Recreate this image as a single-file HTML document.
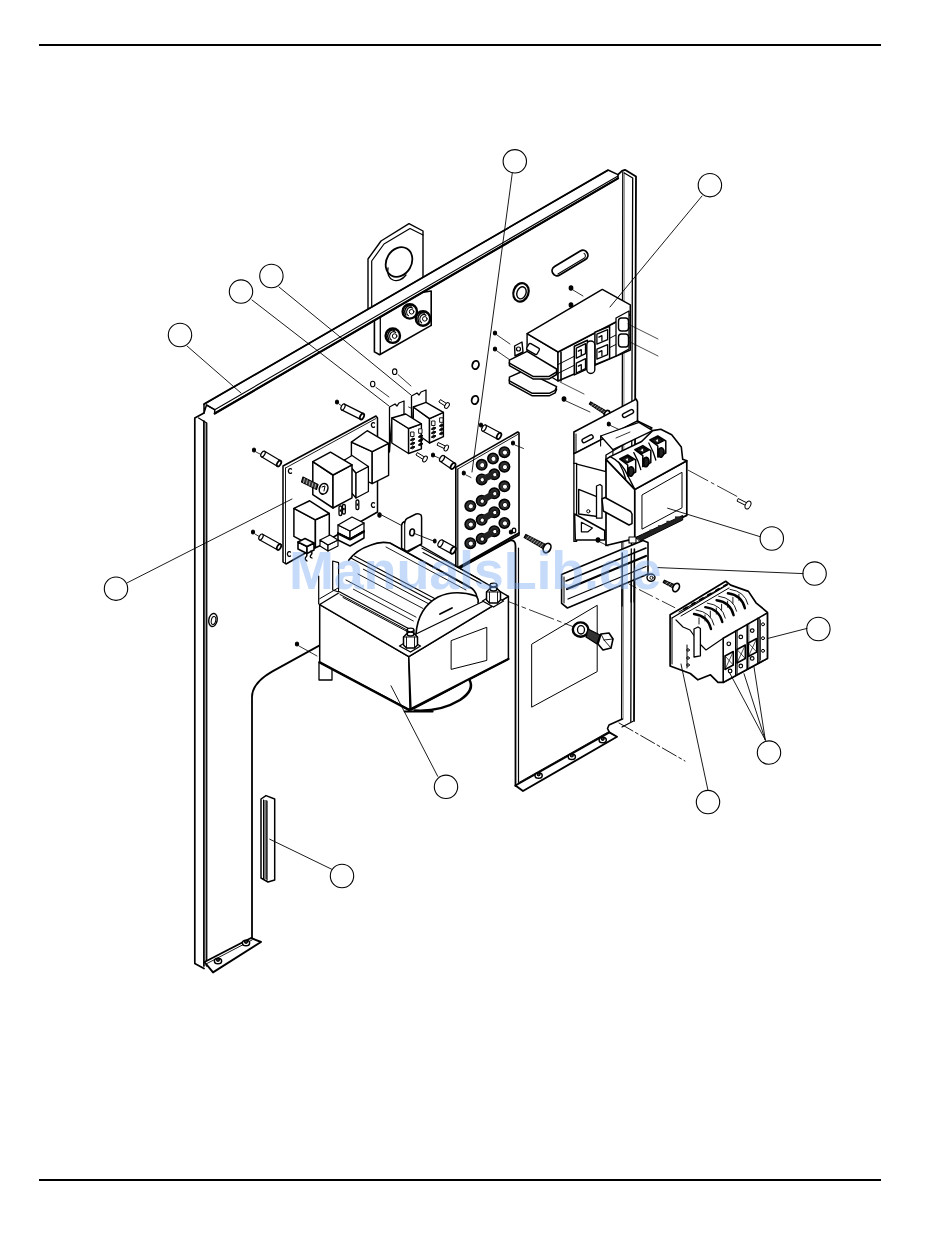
<!DOCTYPE html>
<html><head><meta charset="utf-8"><title>Parts diagram</title>
<style>
html,body{margin:0;padding:0;background:#fff;}
body{width:950px;height:1248px;position:relative;overflow:hidden;font-family:"Liberation Sans",sans-serif;}
.hr{position:absolute;left:39px;width:842px;height:2px;background:#000;}
svg{position:absolute;left:0;top:0;}
.wm{position:absolute;left:289px;top:539px;font:bold 54px "Liberation Sans",sans-serif;color:rgba(120,170,240,0.42);white-space:nowrap;letter-spacing:-0.2px;}
</style></head>
<body>
<div class="hr" style="top:44px"></div>
<div class="hr" style="top:1179px"></div>
<svg width="950" height="1248" viewBox="0 0 950 1248" stroke="#000" stroke-linejoin="round" stroke-linecap="round" fill="none">
<path d="M204,413 L194.8,418 L194.8,963.5 L204,968.5" stroke-width="1.7" fill="none" />
<path d="M198.6,418 L206.7,423 L206.7,966" stroke-width="1.4" fill="none" />
<rect x="204.7" y="423" width="1.4" height="543" fill="#999" stroke="none"/>
<path d="M203.9,421 L203.9,966" stroke-width="1.7" fill="none" />
<path d="M618,174.6 L622,170.8 L625,169.8 L636,176.5 L634,721" stroke-width="1.8" fill="none" />
<path d="M622.8,172 L621.6,719" stroke-width="1.3" fill="none" />
<path d="M624.4,173 L623.1,719" stroke-width="1.3" fill="none" stroke="#999"/>
<path d="M624.3,173 L632.7,178 L630.8,721.5" stroke-width="1.3" fill="none" />
<path d="M252,940 L252,697 Q252,683 272,671.6 L510,540.5 Q515.5,539.5 515.5,546 L515.5,786" stroke-width="1.8" fill="none" />
<path d="M518.5,548 L518.5,782" stroke-width="1.2" fill="none" />
<path d="M622.3,719 L609,725 L607.5,728.5 L609.4,732.4" stroke-width="1.6" fill="none" />
<path d="M632.6,721.5 L622,727" stroke-width="1.2" fill="none" />
<line x1="619" y1="723" x2="685" y2="761" stroke-width="0.9" stroke-dasharray="16,3,3,3"/>
<polygon points="515.4,785.5 609.4,732.4 617.0,736.8 523.0,791.0" stroke-width="1.9" fill="#fff" />
<path d="M518,783 L609,731.5" stroke-width="0.9" fill="none" />
<ellipse cx="538.6" cy="775.5" rx="3.6" ry="2.8" transform="rotate(0 538.6 775.5)" stroke-width="1.5" fill="#fff" />
<circle cx="538.6" cy="774.3" r="1.5" stroke-width="1.2" fill="#333" />
<ellipse cx="571.8" cy="756.7" rx="3.6" ry="2.8" transform="rotate(0 571.8 756.7)" stroke-width="1.5" fill="#fff" />
<circle cx="571.8" cy="755.5" r="1.5" stroke-width="1.2" fill="#333" />
<ellipse cx="602.7" cy="740" rx="3.6" ry="2.8" transform="rotate(0 602.7 740)" stroke-width="1.5" fill="#fff" />
<circle cx="602.7" cy="738.8" r="1.5" stroke-width="1.2" fill="#333" />
<polygon points="204.5,962.0 251.0,938.0 261.0,942.0 213.0,972.4" stroke-width="1.9" fill="#fff" />
<path d="M207,963.5 L252,940" stroke-width="0.9" fill="none" />
<ellipse cx="218" cy="961" rx="3.6" ry="2.8" transform="rotate(0 218 961)" stroke-width="1.5" fill="#fff" />
<circle cx="218" cy="959.8" r="1.5" stroke-width="1.2" fill="#333" />
<ellipse cx="246" cy="943" rx="3.6" ry="2.8" transform="rotate(0 246 943)" stroke-width="1.5" fill="#fff" />
<circle cx="246" cy="941.8" r="1.5" stroke-width="1.2" fill="#333" />
<polygon points="532.0,644.0 597.2,605.3 597.2,671.6 532.0,707.0" stroke-width="1.0" fill="none" />
<rect x="-20" y="-5" width="40" height="10" rx="5" transform="translate(570,263) rotate(-31)" stroke-width="1.8" fill="none"/>
<path d="M-16,3.2 L15,3.2 A3,3 0 0 0 17,-1" transform="translate(570,263) rotate(-31)" stroke-width="1.0" fill="none"/>
<ellipse cx="521" cy="292.4" rx="7.5" ry="9.5" transform="rotate(20 521 292.4)" stroke-width="2.2" fill="none" />
<ellipse cx="521.5" cy="292.8" rx="4.5" ry="6.2" transform="rotate(20 521.5 292.8)" stroke-width="1.4" fill="none" />
<ellipse cx="213" cy="620" rx="4.2" ry="6.6" transform="rotate(10 213 620)" stroke-width="1.4" fill="none" />
<ellipse cx="213.5" cy="620.5" rx="2.2" ry="4" transform="rotate(10 213.5 620.5)" stroke-width="1.0" fill="none" />
<ellipse cx="475.6" cy="365" rx="3.3" ry="4.2" transform="rotate(15 475.6 365)" stroke-width="1.8" fill="none" />
<ellipse cx="475" cy="400" rx="3.3" ry="4.2" transform="rotate(15 475 400)" stroke-width="1.8" fill="none" />
<polygon points="374.4,302.0 374.4,351.9 379.6,354.8 431.2,325.4 431.2,291.0 374.4,300.0" stroke-width="1.6" fill="#fff" />
<path d="M380.3,300 L380.3,354" stroke-width="1.3" fill="none" />
<polygon points="368.0,310.0 368.0,259.0 381.0,241.0 409.0,223.6 423.0,231.0 423.0,290.0 368.0,318.0" stroke-width="1.4" fill="#fff" />
<path d="M371.7,306 L371.7,261 L384,244 L410,228.5 L423,235" stroke-width="1.2" fill="none" />
<ellipse cx="399" cy="262" rx="12.5" ry="15.5" transform="rotate(30 399 262)" stroke-width="1.8" fill="none" />
<path d="M388,268 A10,13 30 0 0 406,275" stroke-width="1.3" fill="none"/>
<circle cx="409.8" cy="311.4" r="7.2" stroke-width="2.4" fill="#fff" />
<path d="M405.84000000000003,315.0 A5.04,5.760000000000001 0 0 1 411.24,306.0" stroke-width="1.5" fill="none"/>
<path d="M408.36,315.71999999999997 A3.6,4.32 0 0 1 412.68,308.15999999999997" stroke-width="1.2" fill="none"/>
<circle cx="411.6" cy="311.76" r="2.3040000000000003" stroke-width="1.0" fill="#fff" />
<circle cx="423" cy="318.5" r="7.2" stroke-width="2.4" fill="#fff" />
<path d="M419.04,322.1 A5.04,5.760000000000001 0 0 1 424.44,313.1" stroke-width="1.5" fill="none"/>
<path d="M421.56,322.82 A3.6,4.32 0 0 1 425.88,315.26" stroke-width="1.2" fill="none"/>
<circle cx="424.8" cy="318.86" r="2.3040000000000003" stroke-width="1.0" fill="#fff" />
<circle cx="392.8" cy="335.7" r="7.2" stroke-width="2.4" fill="#fff" />
<path d="M388.84000000000003,339.3 A5.04,5.760000000000001 0 0 1 394.24,330.3" stroke-width="1.5" fill="none"/>
<path d="M391.36,340.02 A3.6,4.32 0 0 1 395.68,332.46" stroke-width="1.2" fill="none"/>
<circle cx="394.6" cy="336.06" r="2.3040000000000003" stroke-width="1.0" fill="#fff" />
<polygon points="204.0,404.0 608.0,170.0 618.0,174.6 618.0,178.4 214.7,413.5 214.7,409.7 206.5,405.0 204.0,413.0" stroke-width="1.5" fill="#fff" />
<path d="M206.5,405 L214.7,409.7 L618,176" stroke-width="1.1" fill="none" />
<path d="M214.7,413.5 L618,178.4" stroke-width="2.2" fill="none" />
<path d="M204,404.3 L608,170.4" stroke-width="1.4" fill="none" />
<ellipse cx="254" cy="450" rx="1.5" ry="2.0" transform="rotate(0 254 450)" stroke-width="1.2" fill="#000" />
<line x1="256" y1="452" x2="262" y2="455" stroke-width="0.8" />
<polygon points="261.4,456.8 277.4,466.3 280.6,460.7 264.6,451.2" stroke-width="1.2" fill="#fff" />
<ellipse cx="263" cy="454" rx="1.7600000000000002" ry="3.2" transform="rotate(30.699722550814414 263 454)" stroke-width="1.2" fill="#fff" />
<ellipse cx="279" cy="463.5" rx="1.7600000000000002" ry="3.2" transform="rotate(30.699722550814414 279 463.5)" stroke-width="1.7999999999999998" fill="#fff" />
<ellipse cx="337" cy="402" rx="1.5" ry="2.0" transform="rotate(0 337 402)" stroke-width="1.2" fill="#000" />
<line x1="339" y1="404" x2="343" y2="407" stroke-width="0.8" />
<polygon points="341.6,409.9 360.6,419.4 363.4,413.6 344.4,404.1" stroke-width="1.2" fill="#fff" />
<ellipse cx="343" cy="407" rx="1.7600000000000002" ry="3.2" transform="rotate(26.56505117707799 343 407)" stroke-width="1.2" fill="#fff" />
<ellipse cx="362" cy="416.5" rx="1.7600000000000002" ry="3.2" transform="rotate(26.56505117707799 362 416.5)" stroke-width="1.7999999999999998" fill="#fff" />
<ellipse cx="253" cy="532" rx="1.5" ry="2.0" transform="rotate(0 253 532)" stroke-width="1.2" fill="#000" />
<line x1="255" y1="534" x2="260" y2="537" stroke-width="0.8" />
<polygon points="259.4,539.8 277.4,549.8 280.6,544.2 262.6,534.2" stroke-width="1.2" fill="#fff" />
<ellipse cx="261" cy="537" rx="1.7600000000000002" ry="3.2" transform="rotate(29.054604099077146 261 537)" stroke-width="1.2" fill="#fff" />
<ellipse cx="279" cy="547" rx="1.7600000000000002" ry="3.2" transform="rotate(29.054604099077146 279 547)" stroke-width="1.7999999999999998" fill="#fff" />
<polygon points="283.0,466.0 376.0,416.0 377.5,418.0 377.5,512.0 286.0,564.0 283.0,562.0" stroke-width="1.5" fill="#fff" />
<path d="M285.5,468 L376,418.5" stroke-width="0.9" fill="none" />
<path d="M285.5,468 L285.5,563" stroke-width="0.9" fill="none" />
<path d="M291.5,469 A2,2.4 0 1 0 291.5,473" stroke-width="1.3" fill="none"/>
<path d="M374.5,423 A2,2.4 0 1 0 374.5,427" stroke-width="1.3" fill="none"/>
<path d="M374.5,503 A2,2.4 0 1 0 374.5,507" stroke-width="1.3" fill="none"/>
<path d="M290.5,552 A2,2.4 0 1 0 290.5,556" stroke-width="1.3" fill="none"/>
<polygon points="351.4,442.1 372.2,451.6 372.2,483.6 351.4,474.1" stroke-width="1.4" fill="#fff" />
<polygon points="372.2,451.6 388.6,443.4 388.6,475.4 372.2,483.6" stroke-width="1.4" fill="#fff" />
<polygon points="351.4,442.1 367.2,430.7 388.6,443.4 372.2,451.6" stroke-width="1.4" fill="#fff" />
<polygon points="344.5,460.0 356.0,473.0 356.0,498.0 344.5,485.0" stroke-width="1.3" fill="#fff" />
<polygon points="356.0,473.0 368.4,466.5 368.4,491.5 356.0,498.0" stroke-width="1.3" fill="#fff" />
<polygon points="344.5,460.0 352.0,455.5 368.4,466.5 356.0,473.0" stroke-width="1.3" fill="#fff" />
<polygon points="312.8,461.7 333.0,475.0 333.0,508.0 312.8,494.7" stroke-width="1.5" fill="#fff" />
<polygon points="333.0,475.0 352.0,464.8 352.0,497.8 333.0,508.0" stroke-width="1.5" fill="#fff" />
<polygon points="312.8,461.7 330.5,452.2 352.0,464.8 333.0,475.0" stroke-width="1.5" fill="#fff" />
<polygon points="293.9,508.4 315.4,519.8 315.4,547.8 293.9,536.4" stroke-width="1.5" fill="#fff" />
<polygon points="315.4,519.8 329.3,513.5 329.3,541.5 315.4,547.8" stroke-width="1.5" fill="#fff" />
<polygon points="293.9,508.4 309.7,500.8 329.3,513.5 315.4,519.8" stroke-width="1.5" fill="#fff" />
<polygon points="338.0,525.0 350.0,531.0 350.0,539.0 338.0,533.0" stroke-width="1.3" fill="#fff" />
<polygon points="350.0,531.0 364.0,523.0 364.0,531.0 350.0,539.0" stroke-width="1.3" fill="#fff" />
<polygon points="338.0,525.0 352.0,517.0 364.0,523.0 350.0,531.0" stroke-width="1.3" fill="#fff" />
<polygon points="338.0,533.0 350.0,539.0 364.0,531.0 364.0,538.0 350.0,546.0 338.0,540.0" stroke-width="1.5" fill="#fff" />
<path d="M338,533.5 L350,539.5 L364,531.5" stroke-width="2.2" fill="none" />
<rect x="339" y="506" width="2.8" height="9.5" rx="1.2" stroke-width="1.3" fill="#fff"/>
<rect x="339.6" y="509.5" width="1.6" height="2.2" fill="#000" stroke="none"/>
<rect x="342.5" y="504.5" width="2.8" height="9.5" rx="1.2" stroke-width="1.3" fill="#fff"/>
<rect x="343.1" y="508.0" width="1.6" height="2.2" fill="#000" stroke="none"/>
<rect x="356" y="500" width="2.8" height="9.5" rx="1.2" stroke-width="1.3" fill="#fff"/>
<rect x="356.6" y="503.5" width="1.6" height="2.2" fill="#000" stroke="none"/>
<polygon points="298.0,542.0 307.0,546.5 307.0,553.5 298.0,549.0" stroke-width="1.6" fill="#fff" />
<polygon points="307.0,546.5 314.0,543.0 314.0,550.0 307.0,553.5" stroke-width="1.6" fill="#fff" />
<polygon points="298.0,542.0 305.0,538.5 314.0,543.0 307.0,546.5" stroke-width="1.6" fill="#fff" />
<path d="M306,553 q2,2 0,4 q-2,2 1,4 M311,551 q2,2 0,4 q-2,2 1,3" stroke-width="1.3" fill="none" />
<polygon points="320.0,540.0 328.0,545.0 328.0,551.0 320.0,546.0" stroke-width="1.2" fill="#fff" />
<polygon points="328.0,545.0 338.0,540.0 338.0,546.0 328.0,551.0" stroke-width="1.2" fill="#fff" />
<polygon points="320.0,540.0 330.0,535.0 338.0,540.0 328.0,545.0" stroke-width="1.2" fill="#fff" />
<path d="M303,477 L318,484.5 L316.5,489.5 L301.5,482 Z" stroke-width="1.2" fill="#333"/>
<line x1="304.5" y1="478.5" x2="303.5" y2="482.5" stroke-width="0.6" stroke="#fff"/>
<line x1="307.3" y1="479.95" x2="306.3" y2="483.95" stroke-width="0.6" stroke="#fff"/>
<line x1="310.1" y1="481.4" x2="309.1" y2="485.4" stroke-width="0.6" stroke="#fff"/>
<line x1="312.9" y1="482.85" x2="311.9" y2="486.85" stroke-width="0.6" stroke="#fff"/>
<line x1="315.7" y1="484.3" x2="314.7" y2="488.3" stroke-width="0.6" stroke="#fff"/>
<ellipse cx="323.6" cy="488.8" rx="4.2" ry="5.4" transform="rotate(20 323.6 488.8)" stroke-width="1.6" fill="#fff" />
<path d="M322,487 L325,486 L324,491" stroke-width="1.0" fill="none" />
<ellipse cx="372.7" cy="384" rx="2.2" ry="2.8" transform="rotate(0 372.7 384)" stroke-width="1.1" fill="#fff" />
<line x1="376" y1="387.4" x2="389" y2="397" stroke-width="0.8" />
<ellipse cx="394.7" cy="371.7" rx="2.2" ry="2.8" transform="rotate(0 394.7 371.7)" stroke-width="1.1" fill="#fff" />
<line x1="398" y1="374.6" x2="411" y2="386" stroke-width="0.8" />
<line x1="408.6" y1="407" x2="420" y2="412" stroke-width="0.8" />
<polygon points="411.5,443.0 411.5,396.0 417.0,393.0 419.0,395.0 421.0,392.0 426.0,390.0 426.0,403.0 413.5,409.0" stroke-width="1.3" fill="#fff" />
<polygon points="413.3,407.0 429.5,418.6 429.5,443.0 413.3,431.4" stroke-width="1.4" fill="#fff" />
<polygon points="429.5,418.6 443.4,412.3 443.4,436.7 429.5,443.0" stroke-width="1.4" fill="#fff" />
<polygon points="413.3,407.0 426.0,402.4 443.4,412.3 429.5,418.6" stroke-width="1.4" fill="#fff" />
<rect x="432" y="421.0" width="3" height="4.5" stroke-width="0.9" fill="#fff"/>
<path d="M431.5,429.0 l2,-1.8 l2.5,0.6 l-2,1.8z" stroke-width="1.0" fill="#000"/>
<path d="M431.5,433.0 l2,-1.8 l2.5,0.6 l-2,1.8z" stroke-width="1.0" fill="#000"/>
<path d="M431.5,437.0 l2,-1.8 l2.5,0.6 l-2,1.8z" stroke-width="1.0" fill="#000"/>
<rect x="440" y="417.8" width="3" height="4.5" stroke-width="0.9" fill="#fff"/>
<path d="M439.5,425.8 l2,-1.8 l2.5,0.6 l-2,1.8z" stroke-width="1.0" fill="#000"/>
<path d="M439.5,429.8 l2,-1.8 l2.5,0.6 l-2,1.8z" stroke-width="1.0" fill="#000"/>
<path d="M439.5,433.8 l2,-1.8 l2.5,0.6 l-2,1.8z" stroke-width="1.0" fill="#000"/>
<polygon points="389.5,452.0 389.5,407.0 395.0,404.0 397.0,406.0 399.0,403.0 404.0,401.0 404.0,414.0 391.8,420.0" stroke-width="1.3" fill="#fff" />
<polygon points="391.8,418.0 408.6,428.5 408.6,453.5 391.8,443.0" stroke-width="1.4" fill="#fff" />
<polygon points="408.6,428.5 421.4,423.8 421.4,448.8 408.6,453.5" stroke-width="1.4" fill="#fff" />
<polygon points="391.8,418.0 405.7,414.0 421.4,423.8 408.6,428.5" stroke-width="1.4" fill="#fff" />
<rect x="411" y="432.0" width="3" height="4.5" stroke-width="0.9" fill="#fff"/>
<path d="M410.5,440.0 l2,-1.8 l2.5,0.6 l-2,1.8z" stroke-width="1.0" fill="#000"/>
<path d="M410.5,444.0 l2,-1.8 l2.5,0.6 l-2,1.8z" stroke-width="1.0" fill="#000"/>
<path d="M410.5,448.0 l2,-1.8 l2.5,0.6 l-2,1.8z" stroke-width="1.0" fill="#000"/>
<rect x="419" y="428.8" width="3" height="4.5" stroke-width="0.9" fill="#fff"/>
<path d="M418.5,436.8 l2,-1.8 l2.5,0.6 l-2,1.8z" stroke-width="1.0" fill="#000"/>
<path d="M418.5,440.8 l2,-1.8 l2.5,0.6 l-2,1.8z" stroke-width="1.0" fill="#000"/>
<path d="M418.5,444.8 l2,-1.8 l2.5,0.6 l-2,1.8z" stroke-width="1.0" fill="#000"/>
<polygon points="439.2,402.2 445.0,405.9 446.5,403.5 440.8,399.8" stroke-width="1.0" fill="#fff" />
<ellipse cx="447" cy="405.5" rx="1.92" ry="3.2" transform="rotate(32.7352262721076 447 405.5)" stroke-width="1.0" fill="#fff" />
<polygon points="437.4,445.3 444.3,448.6 445.6,446.1 438.6,442.7" stroke-width="1.0" fill="#fff" />
<ellipse cx="446.3" cy="448" rx="1.92" ry="3.2" transform="rotate(25.730705601531167 446.3 448)" stroke-width="1.0" fill="#fff" />
<polygon points="416.3,455.2 423.0,459.4 424.5,457.0 417.7,452.8" stroke-width="1.0" fill="#fff" />
<ellipse cx="425" cy="459" rx="1.92" ry="3.2" transform="rotate(32.005383208083494 425 459)" stroke-width="1.0" fill="#fff" />
<ellipse cx="433" cy="455" rx="1.5" ry="2.0" transform="rotate(0 433 455)" stroke-width="1.2" fill="#000" />
<line x1="434.5" y1="456" x2="441" y2="459" stroke-width="0.8" />
<polygon points="440.1,461.3 451.1,468.8 454.9,463.2 443.9,455.7" stroke-width="1.2" fill="#fff" />
<ellipse cx="442" cy="458.5" rx="1.87" ry="3.4" transform="rotate(34.28687697720896 442 458.5)" stroke-width="1.2" fill="#fff" />
<ellipse cx="453" cy="466" rx="1.87" ry="3.4" transform="rotate(34.28687697720896 453 466)" stroke-width="1.7999999999999998" fill="#fff" />
<polygon points="482.4,431.0 497.4,439.0 500.6,433.0 485.6,425.0" stroke-width="1.2" fill="#fff" />
<ellipse cx="484" cy="428" rx="1.87" ry="3.4" transform="rotate(28.072486935852957 484 428)" stroke-width="1.2" fill="#fff" />
<ellipse cx="499" cy="436" rx="1.87" ry="3.4" transform="rotate(28.072486935852957 499 436)" stroke-width="1.7999999999999998" fill="#fff" />
<ellipse cx="481" cy="425" rx="1.5" ry="2.0" transform="rotate(0 481 425)" stroke-width="1.2" fill="#000" />
<polygon points="455.8,467.4 517.7,432.0 519.0,433.0 519.0,535.0 457.5,569.0 455.8,568.0" stroke-width="1.6" fill="#fff" />
<path d="M457.8,469 L517.7,434.5" stroke-width="0.9" fill="none" />
<path d="M457.8,469 L457.8,568.5" stroke-width="1.2" fill="none" />
<path d="M459,567 L519,533" stroke-width="2.0" fill="none" />
<ellipse cx="463.8" cy="473" rx="1.5" ry="2.0" transform="rotate(0 463.8 473)" stroke-width="1.2" fill="#000" />
<ellipse cx="513" cy="443" rx="1.5" ry="2.0" transform="rotate(0 513 443)" stroke-width="1.2" fill="#000" />
<ellipse cx="514" cy="530.5" rx="1.8" ry="2.3" transform="rotate(0 514 530.5)" stroke-width="1.3" fill="#fff" />
<line x1="466" y1="475" x2="471" y2="477.5" stroke-width="0.8" />
<line x1="515" y1="445" x2="523.5" y2="448.5" stroke-width="0.8" />
<circle cx="481.7" cy="464.8" r="5.2" stroke-width="1.6" fill="#333" />
<circle cx="482.3" cy="465.2" r="2.6" stroke-width="0.9" fill="#fff" />
<circle cx="493" cy="458.5" r="5.2" stroke-width="1.6" fill="#333" />
<circle cx="493.6" cy="458.9" r="2.6" stroke-width="0.9" fill="#fff" />
<circle cx="504.4" cy="452.2" r="5.2" stroke-width="1.6" fill="#333" />
<circle cx="505.0" cy="452.59999999999997" r="2.6" stroke-width="0.9" fill="#fff" />
<circle cx="504.4" cy="466.7" r="5.2" stroke-width="1.6" fill="#333" />
<circle cx="505.0" cy="467.09999999999997" r="2.6" stroke-width="0.9" fill="#fff" />
<circle cx="481.7" cy="479.4" r="5.2" stroke-width="1.6" fill="#333" />
<circle cx="482.3" cy="479.79999999999995" r="2.6" stroke-width="0.9" fill="#fff" />
<circle cx="494.3" cy="474.3" r="5.2" stroke-width="1.6" fill="#333" />
<circle cx="494.90000000000003" cy="474.7" r="2.6" stroke-width="0.9" fill="#fff" />
<circle cx="504.4" cy="486.3" r="5.2" stroke-width="1.6" fill="#333" />
<circle cx="505.0" cy="486.7" r="2.6" stroke-width="0.9" fill="#fff" />
<circle cx="494.3" cy="493.3" r="5.2" stroke-width="1.6" fill="#333" />
<circle cx="494.90000000000003" cy="493.7" r="2.6" stroke-width="0.9" fill="#fff" />
<circle cx="481.7" cy="500.8" r="5.2" stroke-width="1.6" fill="#333" />
<circle cx="482.3" cy="501.2" r="2.6" stroke-width="0.9" fill="#fff" />
<circle cx="470.3" cy="505.9" r="5.2" stroke-width="1.6" fill="#333" />
<circle cx="470.90000000000003" cy="506.29999999999995" r="2.6" stroke-width="0.9" fill="#fff" />
<circle cx="504.4" cy="504.6" r="5.2" stroke-width="1.6" fill="#333" />
<circle cx="505.0" cy="505.0" r="2.6" stroke-width="0.9" fill="#fff" />
<circle cx="494.3" cy="512.2" r="5.2" stroke-width="1.6" fill="#333" />
<circle cx="494.90000000000003" cy="512.6" r="2.6" stroke-width="0.9" fill="#fff" />
<circle cx="481.7" cy="519.8" r="5.2" stroke-width="1.6" fill="#333" />
<circle cx="482.3" cy="520.1999999999999" r="2.6" stroke-width="0.9" fill="#fff" />
<circle cx="470.3" cy="524.2" r="5.2" stroke-width="1.6" fill="#333" />
<circle cx="470.90000000000003" cy="524.6" r="2.6" stroke-width="0.9" fill="#fff" />
<circle cx="504.4" cy="523" r="5.2" stroke-width="1.6" fill="#333" />
<circle cx="505.0" cy="523.4" r="2.6" stroke-width="0.9" fill="#fff" />
<circle cx="494.3" cy="531.2" r="5.2" stroke-width="1.6" fill="#333" />
<circle cx="494.90000000000003" cy="531.6" r="2.6" stroke-width="0.9" fill="#fff" />
<circle cx="481.7" cy="538.7" r="5.2" stroke-width="1.6" fill="#333" />
<circle cx="482.3" cy="539.1" r="2.6" stroke-width="0.9" fill="#fff" />
<circle cx="470.3" cy="543.2" r="5.2" stroke-width="1.6" fill="#333" />
<circle cx="470.90000000000003" cy="543.6" r="2.6" stroke-width="0.9" fill="#fff" />
<line x1="481.7" y1="479.4" x2="494.3" y2="474.3" stroke-width="6.5" stroke="#222"/>
<line x1="494.3" y1="493.3" x2="481.7" y2="500.8" stroke-width="6.5" stroke="#222"/>
<line x1="494.3" y1="512.2" x2="481.7" y2="519.8" stroke-width="6.5" stroke="#222"/>
<line x1="494.3" y1="531.2" x2="481.7" y2="538.7" stroke-width="6.5" stroke="#222"/>
<circle cx="482.3" cy="479.79999999999995" r="2.2" stroke-width="0.9" fill="#fff" />
<circle cx="494.90000000000003" cy="474.7" r="2.2" stroke-width="0.9" fill="#fff" />
<circle cx="494.90000000000003" cy="493.7" r="2.2" stroke-width="0.9" fill="#fff" />
<circle cx="482.3" cy="501.2" r="2.2" stroke-width="0.9" fill="#fff" />
<circle cx="494.90000000000003" cy="512.6" r="2.2" stroke-width="0.9" fill="#fff" />
<circle cx="482.3" cy="520.1999999999999" r="2.2" stroke-width="0.9" fill="#fff" />
<circle cx="494.90000000000003" cy="531.6" r="2.2" stroke-width="0.9" fill="#fff" />
<circle cx="482.3" cy="539.1" r="2.2" stroke-width="0.9" fill="#fff" />
<ellipse cx="571" cy="288" rx="1.8" ry="2.2" transform="rotate(0 571 288)" stroke-width="1.2" fill="#000" />
<line x1="573" y1="290" x2="583" y2="296" stroke-width="0.8" />
<ellipse cx="571" cy="305" rx="1.8" ry="2.2" transform="rotate(0 571 305)" stroke-width="1.2" fill="#000" />
<ellipse cx="495" cy="333" rx="1.6" ry="2.0" transform="rotate(0 495 333)" stroke-width="1.2" fill="#000" />
<line x1="497" y1="335" x2="510" y2="344" stroke-width="0.8" />
<ellipse cx="495" cy="349" rx="1.6" ry="2.0" transform="rotate(0 495 349)" stroke-width="1.2" fill="#000" />
<line x1="497" y1="351" x2="510" y2="360" stroke-width="0.8" />
<polygon points="527.1,333.6 558.0,352.0 558.0,381.0 527.1,362.0" stroke-width="1.4" fill="#fff" />
<polygon points="558.0,352.0 630.3,314.5 630.3,350.0 558.0,381.0" stroke-width="1.5" fill="#fff" />
<polygon points="527.1,333.6 602.3,289.4 630.3,304.9 630.3,314.5 558.0,352.0" stroke-width="1.5" fill="#fff" />
<line x1="558" y1="364.6" x2="630.3" y2="327.7" stroke-width="1.0" />
<line x1="558" y1="373.4" x2="630.3" y2="337.3" stroke-width="1.0" />
<line x1="561" y1="352" x2="561" y2="381" stroke-width="1.6" />
<path d="M574.3,346.2 L587.5,340.2 L587.5,368.9 L574.3,374.9 Z" stroke-width="1.5" fill="#fff"/>
<path d="M576.3,348.2 l9.200000000000045,-4.5 l0,10 l-9.200000000000045,4.5 z" stroke-width="1.3" fill="#fff"/>
<path d="M576.3,363.2 l9.200000000000045,-4.5 l0,10 l-9.200000000000045,4.5 z" stroke-width="1.3" fill="#fff"/>
<path d="M578.3,351.2 l3,-1.5 l0,5 M578.3,366.2 l3,-1.5 l0,5" stroke-width="1.3" fill="none"/>
<path d="M594.9,332.2 L609.6,326.2 L609.6,358.6 L594.9,364.6 Z" stroke-width="1.5" fill="#fff"/>
<path d="M596.9,334.2 l10.700000000000045,-4.5 l0,10 l-10.700000000000045,4.5 z" stroke-width="1.3" fill="#fff"/>
<path d="M596.9,349.2 l10.700000000000045,-4.5 l0,10 l-10.700000000000045,4.5 z" stroke-width="1.3" fill="#fff"/>
<path d="M598.9,337.2 l3,-1.5 l0,5 M598.9,352.2 l3,-1.5 l0,5" stroke-width="1.3" fill="none"/>
<rect x="586.8" y="341" width="8" height="32.5" rx="4" stroke-width="1.4" fill="#fff"/>
<polygon points="616.0,318.0 629.0,311.0 629.0,349.0 616.0,356.0" stroke-width="1.3" fill="#fff" />
<rect x="618.5" y="318" width="10" height="13" rx="3" stroke-width="1.4" fill="#fff"/>
<rect x="618.5" y="334" width="10" height="13" rx="3" stroke-width="1.4" fill="#fff"/>
<polygon points="509.4,379.6 524.2,373.0 556.6,389.2 555.1,392.9 549.2,395.8 532.3,395.8 509.4,383.3" stroke-width="1.5" fill="#fff" />
<polygon points="509.4,377.1 524.2,370.5 556.6,386.7 555.1,390.4 549.2,393.3 532.3,393.3 509.4,380.8" stroke-width="1.5" fill="#fff" />
<polygon points="509.4,362.7 527.1,353.8 556.6,371.5 556.6,374.5 549.2,378.9 533.0,378.9 509.4,365.6" stroke-width="1.5" fill="#fff" />
<polygon points="509.4,360.2 527.1,351.3 556.6,369.0 556.6,372.0 549.2,376.4 533.0,376.4 509.4,363.1" stroke-width="1.5" fill="#fff" />
<polygon points="514.6,346.0 522.0,342.0 523.0,352.0 515.0,356.0" stroke-width="1.4" fill="#fff" />
<circle cx="518.5" cy="349" r="2" stroke-width="1.2" fill="none" />
<rect x="-6" y="-3.5" width="12" height="7" rx="1.5" transform="translate(533,349) rotate(30)" stroke-width="1.4" fill="#fff"/>
<line x1="628" y1="324" x2="658" y2="339" stroke-width="0.7" />
<line x1="630" y1="342" x2="658" y2="356" stroke-width="0.7" />
<line x1="560" y1="382" x2="584" y2="394" stroke-width="0.7" />
<ellipse cx="564" cy="399" rx="1.8" ry="2.2" transform="rotate(0 564 399)" stroke-width="1.2" fill="#000" />
<line x1="566" y1="401" x2="590" y2="412" stroke-width="0.8" />
<polygon points="589.3,404.1 605.0,414.5 607.0,411.5 590.7,401.9" stroke-width="1.2" fill="#333" />
<line x1="591.5" y1="405.6" x2="593.7" y2="403.6" stroke-width="0.5" stroke="#fff"/>
<line x1="593.8" y1="407.1" x2="596.0" y2="405.1" stroke-width="0.5" stroke="#fff"/>
<line x1="596.1" y1="408.5" x2="598.3" y2="406.5" stroke-width="0.5" stroke="#fff"/>
<line x1="598.4" y1="409.9" x2="600.6" y2="407.9" stroke-width="0.5" stroke="#fff"/>
<line x1="600.7" y1="411.4" x2="602.9" y2="409.3" stroke-width="0.5" stroke="#fff"/>
<line x1="603.0" y1="412.8" x2="605.2" y2="410.8" stroke-width="0.5" stroke="#fff"/>
<ellipse cx="607.0175979648061" cy="413.6359987280038" rx="2.38" ry="3.4" transform="rotate(32.005383208083494 607.0175979648061 413.6359987280038)" stroke-width="1.68" fill="#fff" />
<polygon points="573.9,432.0 636.2,399.1 637.5,401.8 637.5,421.0 573.9,453.8" stroke-width="1.6" fill="#fff" />
<rect x="-6" y="-2" width="12" height="4" rx="2" transform="translate(587.6,438.8) rotate(-28)" stroke-width="1.4" fill="none"/>
<rect x="-6" y="-2" width="12" height="4" rx="2" transform="translate(628,413.5) rotate(-28)" stroke-width="1.4" fill="none"/>
<path d="M576,434 L576,452" stroke-width="1.0" fill="none" />
<ellipse cx="608.8" cy="424" rx="1.5" ry="2.0" transform="rotate(0 608.8 424)" stroke-width="1.2" fill="#000" />
<line x1="610.5" y1="425.5" x2="620" y2="430" stroke-width="0.8" />
<polygon points="573.9,453.8 637.5,421.0 652.0,428.0 606.0,455.0 606.0,471.6 573.9,463.4" stroke-width="1.4" fill="#fff" />
<polygon points="600.6,436.0 638.9,422.4 652.6,430.6 612.9,449.7" stroke-width="1.3" fill="#fff" />
<path d="M612.9,449.7 L612.9,457 M600.6,436 L600.6,446" stroke-width="1.1" fill="none" />
<path d="M616,438 L630,432" stroke-width="0.8" fill="none" />
<polygon points="573.9,463.4 576.6,463.4 576.6,541.4 573.9,541.4" stroke-width="1.3" fill="#fff" />
<polygon points="578.7,489.4 599.2,497.6 599.2,516.8 578.7,514.0" stroke-width="1.4" fill="#fff" />
<circle cx="588.3" cy="511.3" r="1.6" stroke-width="1.0" fill="none" />
<polygon points="596.5,486.0 600.0,484.5 602.0,486.0 602.0,518.2 596.5,518.2" stroke-width="1.3" fill="#fff" />
<polygon points="574.6,514.0 604.7,530.5 604.7,540.0 575.3,540.0" stroke-width="1.5" fill="#fff" />
<polygon points="581.4,522.3 592.4,528.0 588.0,531.8 581.4,531.8" stroke-width="1.2" fill="#fff" />
<polygon points="606.0,459.3 634.8,489.4 634.8,538.7 606.0,545.5" stroke-width="1.7" fill="#fff" />
<polygon points="634.8,489.4 686.8,460.7 686.8,515.4 634.8,538.7" stroke-width="1.7" fill="#fff" />
<polygon points="642.3,494.8 682.0,472.3 682.0,507.8 642.3,529.0" stroke-width="1.0" fill="#fff" />
<polygon points="606.0,459.3 610.2,456.6 641.6,441.5 652.6,430.6 660.8,429.2 671.7,434.7 681.3,447.0 682.7,459.3 686.8,460.7 634.8,489.4" stroke-width="1.6" fill="#fff" />
<path d="M610.2,456.6 Q622,462 628,476 L634.8,489.4" stroke-width="1.4" fill="none" />
<polygon points="619.7,459.0 627.7,455.0 635.7,460.0 635.7,472.0 627.7,476.0 627.7,465.0" stroke-width="1.5" fill="#fff" />
<polygon points="621.2,459.5 627.7,456.2 633.2,459.8 626.7,463.0" stroke-width="1.4" fill="#222" />
<circle cx="627.2" cy="459.6" r="1.6" stroke-width="0.8" fill="#fff" />
<path d="M628.7,468 q3,-3 5,1 q1,4 -2,7 q-3,1 -3,-3z" stroke-width="1.6" fill="#222"/>
<path d="M618.7,462 Q623.7,471 625.7,479" stroke-width="1.3" fill="none" />
<polygon points="634.8,449.6 642.8,445.6 650.8,450.6 650.8,462.6 642.8,466.6 642.8,455.6" stroke-width="1.5" fill="#fff" />
<polygon points="636.3,450.1 642.8,446.8 648.3,450.4 641.8,453.6" stroke-width="1.4" fill="#222" />
<circle cx="642.3" cy="450.20000000000005" r="1.6" stroke-width="0.8" fill="#fff" />
<path d="M643.8,458.6 q3,-3 5,1 q1,4 -2,7 q-3,1 -3,-3z" stroke-width="1.6" fill="#222"/>
<path d="M633.8,452.6 Q638.8,461.6 640.8,469.6" stroke-width="1.3" fill="none" />
<polygon points="649.8,440.0 657.8,436.0 665.8,441.0 665.8,453.0 657.8,457.0 657.8,446.0" stroke-width="1.5" fill="#fff" />
<polygon points="651.3,440.5 657.8,437.2 663.3,440.8 656.8,444.0" stroke-width="1.4" fill="#222" />
<circle cx="657.3" cy="440.6" r="1.6" stroke-width="0.8" fill="#fff" />
<path d="M658.8,449 q3,-3 5,1 q1,4 -2,7 q-3,1 -3,-3z" stroke-width="1.6" fill="#222"/>
<path d="M648.8,443 Q653.8,452 655.8,460" stroke-width="1.3" fill="none" />
<polygon points="602.0,499.0 605.0,497.5 630.7,511.5 632.0,514.0 632.0,523.6 629.0,525.0 603.3,511.0" stroke-width="1.5" fill="#fff" />
<polygon points="636.0,537.3 682.7,515.4 682.7,520.0 640.0,541.0" stroke-width="1.0" fill="#222" />
<rect x="641.0" y="534.0" width="4" height="4" fill="#222" stroke="none"/>
<rect x="649.5" y="529.6" width="4" height="4" fill="#222" stroke="none"/>
<rect x="658.0" y="525.2" width="4" height="4" fill="#222" stroke="none"/>
<rect x="666.5" y="520.8" width="4" height="4" fill="#222" stroke="none"/>
<rect x="675.0" y="516.4" width="4" height="4" fill="#222" stroke="none"/>
<polygon points="629.0,537.0 636.0,537.0 636.0,543.0 629.0,543.0" stroke-width="1.1" fill="#fff" />
<line x1="688.4" y1="470.3" x2="737.7" y2="496.8" stroke-width="0.8" stroke-dasharray="22,4,3,4"/>
<polygon points="737.4,501.3 746.0,505.6 747.3,503.1 738.6,498.7" stroke-width="1.0" fill="#fff" />
<ellipse cx="748" cy="505" rx="2.52" ry="4.2" transform="rotate(26.56505117707799 748 505)" stroke-width="1.0" fill="#fff" />
<polygon points="561.6,574.4 643.0,540.4 648.0,542.5 648.0,574.0 567.4,608.0 561.6,603.4" stroke-width="1.6" fill="#fff" />
<path d="M566,581 L646,548" stroke-width="1.6" fill="none" />
<path d="M567,589 L646,556" stroke-width="2.2" fill="none" />
<path d="M568,599 L646,566.5" stroke-width="1.3" fill="none" />
<path d="M564,577 L564,603" stroke-width="1.0" fill="none" />
<ellipse cx="598" cy="540" rx="1.8" ry="2.2" transform="rotate(0 598 540)" stroke-width="1.2" fill="#000" />
<line x1="600" y1="542" x2="608" y2="546" stroke-width="0.8" />
<path d="M622.2,553 L622.1,606" stroke-width="1.3" fill="none" />
<path d="M631.3,549 L631.1,602" stroke-width="1.3" fill="none" />
<path d="M634.4,549 L634.2,602" stroke-width="1.6" fill="none" />
<polygon points="524.2,537.5 544.8,549.6 547.2,545.4 525.8,534.5" stroke-width="1.2" fill="#333" />
<line x1="526.4" y1="539.0" x2="529.0" y2="536.0" stroke-width="0.5" stroke="#fff"/>
<line x1="528.7" y1="540.2" x2="531.3" y2="537.3" stroke-width="0.5" stroke="#fff"/>
<line x1="531.1" y1="541.5" x2="533.6" y2="538.5" stroke-width="0.5" stroke="#fff"/>
<line x1="533.4" y1="542.8" x2="536.0" y2="539.8" stroke-width="0.5" stroke="#fff"/>
<line x1="535.7" y1="544.1" x2="538.3" y2="541.1" stroke-width="0.5" stroke="#fff"/>
<line x1="538.1" y1="545.4" x2="540.6" y2="542.4" stroke-width="0.5" stroke="#fff"/>
<line x1="540.4" y1="546.6" x2="543.0" y2="543.6" stroke-width="0.5" stroke="#fff"/>
<line x1="542.7" y1="547.9" x2="545.3" y2="544.9" stroke-width="0.5" stroke="#fff"/>
<ellipse cx="547.0525155214098" cy="548.0763775474387" rx="3.5" ry="5.0" transform="rotate(28.70595254340109 547.0525155214098 548.0763775474387)" stroke-width="1.68" fill="#fff" />
<ellipse cx="511" cy="532" rx="1.6" ry="2.0" transform="rotate(0 511 532)" stroke-width="1.2" fill="#000" />
<ellipse cx="651" cy="577.6" rx="4" ry="3.6" transform="rotate(0 651 577.6)" stroke-width="1.4" fill="#fff" />
<circle cx="651.5" cy="577.8" r="1.6" stroke-width="0.9" fill="none" />
<polygon points="663.2,582.4 674.2,588.6 675.8,585.4 664.4,580.2" stroke-width="1.2" fill="#333" />
<line x1="665.9" y1="584.0" x2="668.0" y2="581.8" stroke-width="0.5" stroke="#fff"/>
<line x1="668.7" y1="585.4" x2="670.8" y2="583.2" stroke-width="0.5" stroke="#fff"/>
<line x1="671.5" y1="586.9" x2="673.6" y2="584.7" stroke-width="0.5" stroke="#fff"/>
<ellipse cx="676.069465923186" cy="587.5442817644786" rx="3.08" ry="4.4" transform="rotate(26.97284343364383 676.069465923186 587.5442817644786)" stroke-width="1.68" fill="#fff" />
<line x1="640" y1="590" x2="676.5" y2="608.5" stroke-width="0.8" stroke-dasharray="14,4,3,4"/>
<line x1="629" y1="584" x2="640" y2="590" stroke-width="0.8" stroke-dasharray="8,4"/>
<polygon points="670.1,614.8 680.8,608.5 725.7,581.3 730.7,585.1 748.4,591.4 756.0,602.8 767.4,612.3 767.4,658.4 723.2,682.4 718.0,682.4 710.5,674.8 697.9,679.8 690.3,673.5 670.1,666.0" stroke-width="1.7" fill="#fff" />
<path d="M672,618 L682,612 L727,585 M676,620 L683,627 L690,630 L700,644 L706,650 L723.2,638.2" stroke-width="1.2" fill="none" />
<path d="M672,618 L672,664" stroke-width="1.0" fill="none" />
<polygon points="723.2,638.2 767.4,612.9 767.4,658.4 723.2,682.4" stroke-width="1.6" fill="#fff" />
<path d="M735.8,631.0 L735.8,675.5" stroke-width="1.6" fill="none" />
<path d="M737.4,630.0 L737.4,674.5" stroke-width="0.7" fill="none" />
<path d="M747.2,624.5 L747.2,669.3" stroke-width="1.6" fill="none" />
<path d="M748.8,623.5 L748.8,668.3" stroke-width="0.7" fill="none" />
<path d="M757.9,618.4 L757.9,663.5" stroke-width="1.6" fill="none" />
<path d="M759.5,617.4 L759.5,662.5" stroke-width="0.7" fill="none" />
<polygon points="725.0,656.0 733.3,651.5 733.3,665.0 725.0,669.5" stroke-width="1.5" fill="#fff" />
<path d="M725,656 L733.3,665 M733.3,651.5 L725,669.5" stroke-width="0.7" fill="none" />
<polygon points="737.0,649.5 745.3,645.0 745.3,658.5 737.0,663.0" stroke-width="1.5" fill="#fff" />
<path d="M737,649.5 L745.3,658.5 M745.3,645.0 L737,663.0" stroke-width="0.7" fill="none" />
<polygon points="748.4,643.0 756.7,638.5 756.7,652.0 748.4,656.5" stroke-width="1.5" fill="#fff" />
<path d="M748.4,643 L756.6999999999999,652 M756.6999999999999,638.5 L748.4,656.5" stroke-width="0.7" fill="none" />
<circle cx="728.8" cy="643.8" r="1.8" stroke-width="1.2" fill="none" />
<circle cx="730.1" cy="671" r="1.8" stroke-width="1.2" fill="none" />
<circle cx="740.8" cy="636.9" r="1.8" stroke-width="1.2" fill="none" />
<circle cx="740.8" cy="666" r="1.8" stroke-width="1.2" fill="none" />
<circle cx="752.2" cy="630.6" r="1.8" stroke-width="1.2" fill="none" />
<circle cx="752.2" cy="658.4" r="1.8" stroke-width="1.2" fill="none" />
<circle cx="763" cy="624.3" r="1.5" stroke-width="1.0" fill="none" />
<circle cx="763" cy="638.2" r="1.5" stroke-width="1.0" fill="none" />
<circle cx="763" cy="650.8" r="1.5" stroke-width="1.0" fill="none" />
<path d="M760.5,620 L760.5,660" stroke-width="0.8" fill="none" />
<path d="M694.0,614.0 Q708.0,616.0 711.0,629.0" stroke-width="2.4" fill="none" />
<path d="M696.0,610.0 Q711.0,612.0 714.0,625.0" stroke-width="0.9" fill="none" />
<path d="M699.0,618.0 L699.0,624.0 M705.0,615.0 L705.0,621.0" stroke-width="0.9" fill="none" />
<path d="M705.3,607.1 Q719.3,609.1 722.3,622.1" stroke-width="2.4" fill="none" />
<path d="M707.3,603.1 Q722.3,605.1 725.3,618.1" stroke-width="0.9" fill="none" />
<path d="M710.3,611.1 L710.3,617.1 M716.3,608.1 L716.3,614.1" stroke-width="0.9" fill="none" />
<path d="M716.6,600.2 Q730.6,602.2 733.6,615.2" stroke-width="2.4" fill="none" />
<path d="M718.6,596.2 Q733.6,598.2 736.6,611.2" stroke-width="0.9" fill="none" />
<path d="M721.6,604.2 L721.6,610.2 M727.6,601.2 L727.6,607.2" stroke-width="0.9" fill="none" />
<path d="M727.9,593.3 Q741.9,595.3 744.9,608.3" stroke-width="2.4" fill="none" />
<path d="M729.9,589.3 Q744.9,591.3 747.9,604.3" stroke-width="0.9" fill="none" />
<path d="M732.9,597.3 L732.9,603.3 M738.9,594.3 L738.9,600.3" stroke-width="0.9" fill="none" />
<path d="M679,612 L727,584.5 M681,616 L729,588" stroke-width="1.0" fill="none" />
<path d="M684.0,609.0 l3,-1.7" stroke-width="2.0" fill="none" />
<path d="M692.0,604.4 l3,-1.7" stroke-width="2.0" fill="none" />
<path d="M700.0,599.8 l3,-1.7" stroke-width="2.0" fill="none" />
<path d="M708.0,595.2 l3,-1.7" stroke-width="2.0" fill="none" />
<path d="M716.0,590.6 l3,-1.7" stroke-width="2.0" fill="none" />
<path d="M724.0,586.0 l3,-1.7" stroke-width="2.0" fill="none" />
<polygon points="694.0,629.0 698.0,627.0 700.4,628.5 700.4,655.8 694.0,657.0" stroke-width="1.3" fill="#fff" />
<path d="M687,645 L687,668" stroke-width="1.0" fill="none" />
<circle cx="688" cy="650" r="1.3" stroke-width="0.9" fill="none" />
<circle cx="688" cy="658" r="1.3" stroke-width="0.9" fill="none" />
<circle cx="688" cy="665" r="1.3" stroke-width="0.9" fill="none" />
<path d="M401.6,548.2 L401.6,525.5 Q402,522 405,521.5 L404.7,522.9 Q405,519 409,517.5 L416,514 Q419,513 421,515 Q421.6,516 421.6,518 L421.6,544 L406.8,551.3 Z" stroke-width="1.5" fill="#fff"/>
<path d="M404.7,523 L404.7,550" stroke-width="1.1" fill="none" />
<ellipse cx="412.1" cy="532.4" rx="2.3" ry="3.4" transform="rotate(10 412.1 532.4)" stroke-width="1.6" fill="none" />
<ellipse cx="379.5" cy="515" rx="1.6" ry="2.2" transform="rotate(0 379.5 515)" stroke-width="1.2" fill="#000" />
<line x1="381.6" y1="515" x2="401.6" y2="525.5" stroke-width="0.9" />
<line x1="414.2" y1="533.4" x2="434.2" y2="541.3" stroke-width="0.9" />
<ellipse cx="434.8" cy="541" rx="1.3" ry="2.0" transform="rotate(0 434.8 541)" stroke-width="1.2" fill="#000" />
<polygon points="438.7,546.7 451.4,553.6 455.0,547.0 442.3,540.1" stroke-width="1.2" fill="#fff" />
<ellipse cx="440.5" cy="543.4" rx="2.09" ry="3.8" transform="rotate(28.515546810464276 440.5 543.4)" stroke-width="1.2" fill="#fff" />
<ellipse cx="453.2" cy="550.3" rx="2.09" ry="3.8" transform="rotate(28.515546810464276 453.2 550.3)" stroke-width="1.7999999999999998" fill="#fff" />
<path d="M318.7,576 L318.7,604" stroke-width="1.2" fill="none" />
<polygon points="332.7,561.0 338.6,562.7 338.6,592.0 332.7,590.0" stroke-width="1.2" fill="#fff" />
<line x1="494" y1="596" x2="580.6" y2="629.6" stroke-width="0.8" stroke-dasharray="26,4,4,4"/>
<ellipse cx="580.6" cy="629.6" rx="7.8" ry="7.2" transform="rotate(0 580.6 629.6)" stroke-width="2.4" fill="#fff" />
<ellipse cx="581" cy="629.8" rx="3.5" ry="4.2" transform="rotate(0 581 629.8)" stroke-width="1.3" fill="none" />
<path d="M588,629 L600,635 L597,644 L586,637 Z" stroke-width="1.3" fill="#333"/>
<polygon points="601,634 609,633 613,639 611,648 603,650 598,644" stroke-width="1.6" fill="#fff"/>
<path d="M601,634 L604,640 L611,648 M604,640 L613,639" stroke-width="0.9" fill="none" />
<polygon points="319.7,604.5 408.8,656.6 410.0,710.0 319.7,662.4" stroke-width="1.5" fill="#fff" />
<polygon points="408.8,656.6 508.4,596.4 508.4,659.0 411.0,710.0" stroke-width="1.5" fill="#fff" />
<polygon points="319.7,604.5 338.7,593.0 420.0,545.0 508.4,596.4 408.8,656.6" stroke-width="1.4" fill="#fff" />
<polygon points="451.5,640.5 486.8,627.3 486.8,660.4 451.5,669.3" stroke-width="1.0" fill="#fff" />
<path d="M319.7,662.4 L409,710 L508.4,659" stroke-width="2.4" fill="none" />
<path d="M319.7,598.7 L338,588" stroke-width="1.0" fill="none" />
<path d="M414.7,710.5 Q440,712 460,700 Q475,690 469.5,680" stroke-width="2.5" fill="#fff" />
<path d="M404.7,711.6 L432.6,711.6" stroke-width="2.0" fill="none" />
<path d="M338.4,593 L348.7,560.3 Q356,550 371,545 Q380,541 390,543 L468,586 Q478,592 478,603 L416,634 Z" fill="#fff" stroke="none"/>
<path d="M348.7,560.3 Q356,550 371,545 Q380,541 390,543 L468,586 Q476,590 477,597" stroke-width="1.6" fill="none" />
<path d="M354.5,556 L444.5,603.7" stroke-width="1.1" fill="none" />
<path d="M351.3,558.2 L441.3,605.9" stroke-width="1.1" fill="none" />
<path d="M363.4,569.2 L433.4,606.3" stroke-width="1.0" fill="none" />
<path d="M358,574 L423.0,608.5" stroke-width="0.9" fill="none" />
<path d="M346,580 L416.0,617.1" stroke-width="0.9" fill="none" />
<path d="M338.4,591.3 L410.4,629.5" stroke-width="1.3" fill="none" />
<path d="M340,594.5 L410.0,631.6" stroke-width="1.0" fill="none" />
<path d="M343,597.5 L409.0,632.5" stroke-width="1.0" fill="none" />
<path d="M353.4,589.2 L413.4,621.0" stroke-width="0.9" fill="none" />
<path d="M390,543 L470,588 M386,547 L466,590" stroke-width="0.9" fill="none" />
<path d="M416,634 Q418,608 438,597 Q455,589 476,596 Q480,600 478,603 L416,634 Z" fill="#fff" stroke="none"/>
<path d="M416,634 Q418,608 438,597 Q455,589 476,596 Q479,599 478,603" stroke-width="1.6" fill="none" />
<path d="M440,614 L452,608" stroke-width="1.8" fill="none" />
<path d="M416,634 L486,600" stroke-width="1.3" fill="none" />
<path d="M422,548.2 L480,579.4 M423,552.5 L481,583.5" stroke-width="1.1" fill="none" />
<polygon points="399.5,646.0 409.5,640.0 420.5,646.0 410.5,652.0" stroke-width="1.4" fill="#fff" />
<polygon points="403.5,637.0 406.5,634.0 414.5,634.0 417.5,637.0 417.5,645.0 414.5,648.0 406.5,648.0 403.5,645.0" stroke-width="1.5" fill="#fff" />
<path d="M406.5,637.0 L406.5,648.0 M414.5,637.0 L414.5,648.0 M403.5,637.0 L417.5,637.0" stroke-width="0.9" fill="none" />
<ellipse cx="410.5" cy="634.0" rx="3.4" ry="2.0" transform="rotate(0 410.5 634.0)" stroke-width="1.4" fill="#fff" />
<path d="M407.1,634.0 L407.1,630.0 M413.9,634.0 L413.9,630.0" stroke-width="1.3" fill="none" />
<ellipse cx="410.5" cy="630.0" rx="3.4" ry="1.8" transform="rotate(0 410.5 630.0)" stroke-width="1.3" fill="#fff" />
<polygon points="482.5,601.0 492.5,595.0 503.5,601.0 493.5,607.0" stroke-width="1.4" fill="#fff" />
<polygon points="486.5,592.0 489.5,589.0 497.5,589.0 500.5,592.0 500.5,600.0 497.5,603.0 489.5,603.0 486.5,600.0" stroke-width="1.5" fill="#fff" />
<path d="M489.5,592.0 L489.5,603.0 M497.5,592.0 L497.5,603.0 M486.5,592.0 L500.5,592.0" stroke-width="0.9" fill="none" />
<ellipse cx="493.5" cy="589.0" rx="3.4" ry="2.0" transform="rotate(0 493.5 589.0)" stroke-width="1.4" fill="#fff" />
<path d="M490.1,589.0 L490.1,585.0 M496.9,589.0 L496.9,585.0" stroke-width="1.3" fill="none" />
<ellipse cx="493.5" cy="585.0" rx="3.4" ry="1.8" transform="rotate(0 493.5 585.0)" stroke-width="1.3" fill="#fff" />
<path d="M319,662 L319,680 L332,680 L332,669" stroke-width="1.3" fill="none" />
<ellipse cx="297" cy="644" rx="1.6" ry="2.0" transform="rotate(0 297 644)" stroke-width="1.2" fill="#000" />
<line x1="299" y1="646" x2="317" y2="656" stroke-width="0.8" />
<polygon points="261.0,799.0 266.0,795.6 274.7,799.0 274.7,880.0 268.0,882.0 261.0,878.0" stroke-width="1.5" fill="#fff" />
<rect x="263.5" y="800" width="3.5" height="79" fill="#777" stroke="none"/>
<path d="M263.5,800 L263.5,879" stroke-width="1.0" fill="none" />
<path d="M267,801 L267,880" stroke-width="1.2" fill="none" />
<circle cx="180" cy="335" r="11.7" stroke-width="1.1" fill="#fff" />
<circle cx="241" cy="291.6" r="11.7" stroke-width="1.1" fill="#fff" />
<circle cx="271.4" cy="276" r="11.7" stroke-width="1.1" fill="#fff" />
<circle cx="514.8" cy="161.3" r="11.7" stroke-width="1.1" fill="#fff" />
<circle cx="709.9" cy="185.2" r="11.7" stroke-width="1.1" fill="#fff" />
<circle cx="116" cy="588.7" r="11.7" stroke-width="1.1" fill="#fff" />
<circle cx="771.8" cy="538.5" r="11.7" stroke-width="1.1" fill="#fff" />
<circle cx="814.6" cy="573.6" r="11.7" stroke-width="1.1" fill="#fff" />
<circle cx="818.4" cy="629" r="11.7" stroke-width="1.1" fill="#fff" />
<circle cx="769" cy="752.6" r="11.7" stroke-width="1.1" fill="#fff" />
<circle cx="708" cy="802.1" r="11.7" stroke-width="1.1" fill="#fff" />
<circle cx="446" cy="786.8" r="11.7" stroke-width="1.1" fill="#fff" />
<circle cx="342" cy="876" r="11.7" stroke-width="1.1" fill="#fff" />
<line x1="187" y1="346" x2="241" y2="393" stroke-width="0.9" />
<line x1="252" y1="300" x2="389" y2="406" stroke-width="0.9" />
<line x1="279" y1="287" x2="411" y2="395" stroke-width="0.9" />
<line x1="512.3" y1="173" x2="472" y2="472" stroke-width="0.9" />
<line x1="702" y1="196" x2="610" y2="307" stroke-width="0.9" />
<line x1="127.4" y1="582.7" x2="292" y2="499" stroke-width="0.9" />
<line x1="759.8" y1="536.6" x2="667.6" y2="508.2" stroke-width="0.9" />
<line x1="803" y1="573.6" x2="658" y2="567.6" stroke-width="0.9" />
<line x1="807" y1="628.4" x2="768" y2="638.4" stroke-width="0.9" />
<line x1="765.3" y1="740" x2="729.5" y2="672.6" stroke-width="0.9" />
<line x1="765.3" y1="740" x2="744" y2="673.7" stroke-width="0.9" />
<line x1="765.3" y1="740" x2="754" y2="667" stroke-width="0.9" />
<line x1="708" y1="790.4" x2="681" y2="664" stroke-width="0.9" />
<line x1="437.7" y1="776.3" x2="391" y2="685.8" stroke-width="0.9" />
<line x1="331.6" y1="869.2" x2="269.7" y2="839.2" stroke-width="0.9" />
</svg>
<div class="wm">ManualsLib.de</div>
</body></html>
